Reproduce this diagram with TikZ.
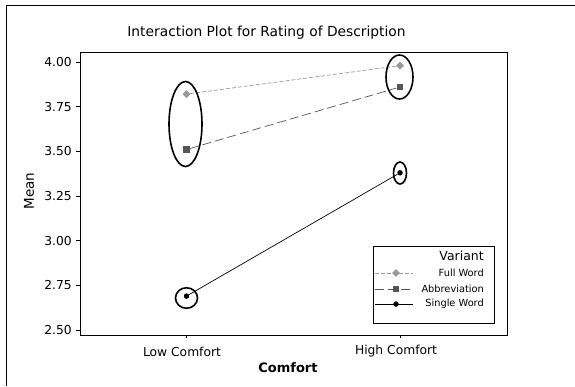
\documentclass[tikz,border=0pt]{standalone}
\usepackage{fontspec}
\setmainfont{DejaVu Sans}
\usetikzlibrary{shapes.geometric}
\definecolor{fullgray}{HTML}{999999}
\definecolor{abbrgray}{HTML}{555555}
\tikzset{
  ring/.style={draw=black, line width=1.6pt, ellipse, inner sep=0pt},
  fullmark/.style={diamond, fill=fullgray, inner sep=0pt, minimum width=8pt, minimum height=8pt},
  abbrmark/.style={rectangle, fill=abbrgray, inner sep=0pt, minimum size=6.5pt},
  singlemark/.style={circle, fill=black, inner sep=0pt, minimum size=5.5pt},
  fullline/.style={draw=fullgray, line width=0.7pt, dash pattern=on 4pt off 2pt},
  abbrline/.style={draw=abbrgray, line width=0.7pt, dash pattern=on 9pt off 4pt},
  singleline/.style={draw=black, line width=0.7pt},
  ticklabel/.style={font=\fontsize{12.3}{14}\selectfont, inner sep=1pt},
  legendtext/.style={font=\fontsize{9.8}{11}\selectfont, anchor=east, inner sep=0pt},
}
\begin{document}
\begin{tikzpicture}[x=1pt,y=-1pt]
\useasboundingbox (0,0) rectangle (575,386);
\fill[white] (0,0) rectangle (575,386);

% outer frame
\draw[line width=0.8pt] (6,386) -- (6,5) -- (575,5);

% title
\node[font=\fontsize{13.8}{16}\selectfont] (title) at (266.5,33) {Interaction Plot for Rating of Description};

% plot area
\draw[line width=0.8pt] (80,52) rectangle (507,335);

% y axis ticks and labels
\foreach \v/\yy in {4.00/62,3.75/106.7,3.50/151.3,3.25/196,3.00/240.7,2.75/285.3,2.50/330} {
  \draw[line width=0.6pt] (76,\yy) -- (80,\yy);
  \node[ticklabel, anchor=east] at (73,\yy) {\v};
}
\node[font=\fontsize{13.5}{16}\selectfont, rotate=90] (ylab) at (29,191) {Mean};

% x axis ticks and labels
\draw[line width=0.6pt] (186.5,335) -- (186.5,338);
\draw[line width=0.6pt] (400,335) -- (400,338);
\node[ticklabel] (lowlab) at (182,352) {Low Comfort};
\node[ticklabel] (highlab) at (396,351) {High Comfort};
\node[font=\bfseries\fontsize{13}{15}\selectfont] (xlab) at (288,368) {Comfort};

% data points
\node[fullmark]   (lowFull)    at (186.5,94.1) {};
\node[abbrmark]   (lowAbbr)    at (186.5,149.5) {};
\node[singlemark] (lowSingle)  at (186.5,296.1) {};
\node[fullmark]   (highFull)   at (400,65.6) {};
\node[abbrmark]   (highAbbr)   at (400,87) {};
\node[singlemark] (highSingle) at (400,172.8) {};

% series lines
\draw[fullline]   (lowFull) -- (highFull);
\draw[abbrline]   (lowAbbr) -- (highAbbr);
\draw[singleline] (lowSingle) -- (highSingle);

% highlight rings
\node[ring, minimum width=33pt, minimum height=85pt] (ringLow) at (185.5,124) {};
\node[ring, minimum width=27pt, minimum height=44pt] (ringHigh) at (399.5,77) {};
\node[ring, minimum width=13pt, minimum height=22pt] (ringHighSingle) at (400,173) {};
\node[ring, minimum width=22pt, minimum height=20.5pt] (ringLowSingle) at (186.5,298) {};

% legend
\draw[line width=0.8pt, fill=white] (373,246) rectangle (494,323);
\node[legendtext, font=\fontsize{12.5}{14}\selectfont] (legtitle) at (484,256) {Variant};
\coordinate (lfA) at (375,273); \coordinate (lfB) at (413,273);
\coordinate (laA) at (375,289); \coordinate (laB) at (413,289);
\coordinate (lsA) at (375,304); \coordinate (lsB) at (413,304);
\draw[fullline]   (lfA) -- (lfB);
\draw[abbrline]   (laA) -- (laB);
\draw[singleline] (lsA) -- (lsB);
\node[fullmark]   (legFull)   at (396,273) {};
\node[abbrmark]   (legAbbr)   at (396,289) {};
\node[singlemark] (legSingle) at (396,304) {};
\node[legendtext] (legFullText)   at (484,273) {Full Word};
\node[legendtext] (legAbbrText)   at (484,289) {Abbreviation};
\node[legendtext] (legSingleText) at (484,304) {Single Word};
\end{tikzpicture}
\end{document}
